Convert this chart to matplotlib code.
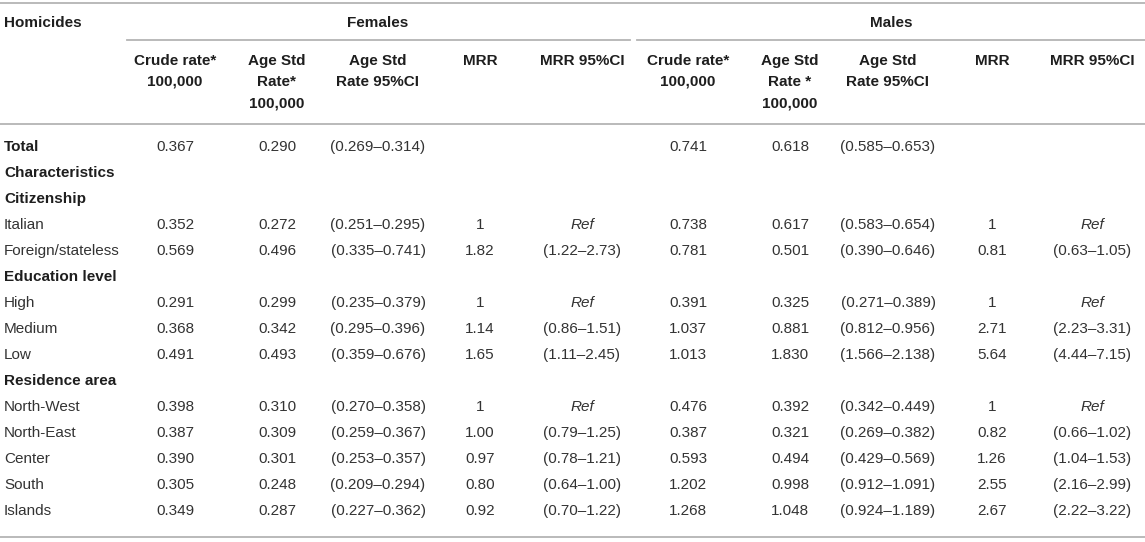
import matplotlib
matplotlib.use('Agg')
import matplotlib.pyplot as plt

plt.rcParams['font.family'] = ['Liberation Sans', 'DejaVu Sans']

# table content
row_labels = ['Total', 'Characteristics', 'Citizenship', 'Italian', 'Foreign/stateless',
              'Education level', 'High', 'Medium', 'Low', 'Residence area',
              'North-West', 'North-East', 'Center', 'South', 'Islands']
bold_rows = ['Total', 'Characteristics', 'Citizenship', 'Education level', 'Residence area']

f_headers = ['Crude rate*\n100,000', 'Age Std\nRate*\n100,000', 'Age Std\nRate 95%CI', 'MRR', 'MRR 95%CI']
m_headers = ['Crude rate*\n100,000', 'Age Std\nRate *\n100,000', 'Age Std\nRate 95%CI', 'MRR', 'MRR 95%CI']

f_crude = ['0.367', '', '', '0.352', '0.569', '', '0.291', '0.368', '0.491', '',
           '0.398', '0.387', '0.390', '0.305', '0.349']
f_age = ['0.290', '', '', '0.272', '0.496', '', '0.299', '0.342', '0.493', '',
         '0.310', '0.309', '0.301', '0.248', '0.287']
f_ci = ['(0.269–0.314)', '', '', '(0.251–0.295)', '(0.335–0.741)', '', '(0.235–0.379)',
        '(0.295–0.396)', '(0.359–0.676)', '', '(0.270–0.358)', '(0.259–0.367)',
        '(0.253–0.357)', '(0.209–0.294)', '(0.227–0.362)']
f_mrr = ['', '', '', '1', '1.82', '', '1', '1.14', '1.65', '', '1', '1.00', '0.97', '0.80', '0.92']
f_mrr_ci = ['', '', '', 'Ref', '(1.22–2.73)', '', 'Ref', '(0.86–1.51)', '(1.11–2.45)', '',
            'Ref', '(0.79–1.25)', '(0.78–1.21)', '(0.64–1.00)', '(0.70–1.22)']

m_crude = ['0.741', '', '', '0.738', '0.781', '', '0.391', '1.037', '1.013', '',
           '0.476', '0.387', '0.593', '1.202', '1.268']
m_age = ['0.618', '', '', '0.617', '0.501', '', '0.325', '0.881', '1.830', '',
         '0.392', '0.321', '0.494', '0.998', '1.048']
m_ci = ['(0.585–0.653)', '', '', '(0.583–0.654)', '(0.390–0.646)', '', '(0.271–0.389)',
        '(0.812–0.956)', '(1.566–2.138)', '', '(0.342–0.449)', '(0.269–0.382)',
        '(0.429–0.569)', '(0.912–1.091)', '(0.924–1.189)']
m_mrr = ['', '', '', '1', '0.81', '', '1', '2.71', '5.64', '', '1', '0.82', '1.26', '2.55', '2.67']
m_mrr_ci = ['', '', '', 'Ref', '(0.63–1.05)', '', 'Ref', '(2.23–3.31)', '(4.44–7.15)', '',
            'Ref', '(0.66–1.02)', '(1.04–1.53)', '(2.16–2.99)', '(2.22–3.22)']

f_cols = [f_crude, f_age, f_ci, f_mrr, f_mrr_ci]
m_cols = [m_crude, m_age, m_ci, m_mrr, m_mrr_ci]

# layout (pixel coordinates)
W, H = 1145, 542
f_x = [175, 277, 378, 480, 582]
m_x = [688, 790, 888, 992, 1092]
row_y0, row_step = 147, 26
line_col = '#b4b4b4'
txt_col = '#333333'
bold_col = '#1e1e1e'
fs = 11

fig = plt.figure(figsize=(W / 100, H / 100), dpi=100)
ax = fig.add_axes([0, 0, 1, 1])
ax.set_xlim(0, W)
ax.set_ylim(H, 0)
ax.axis('off')

# rules
ax.plot([0, W], [3, 3], color=line_col, lw=1.3)
ax.plot([127, 630], [40, 40], color=line_col, lw=1.3)
ax.plot([637, W], [40, 40], color=line_col, lw=1.3)
ax.plot([0, W], [124, 124], color=line_col, lw=1.3)
ax.plot([0, W], [537, 537], color=line_col, lw=1.3)

# top header
ax.text(4, 23, 'Homicides', ha='left', va='center', fontsize=fs, fontweight='bold', color=bold_col)
ax.text(378, 23, 'Females', ha='center', va='center', fontsize=fs, fontweight='bold', color=bold_col)
ax.text(891, 23, 'Males', ha='center', va='center', fontsize=fs, fontweight='bold', color=bold_col)

# column headers
for xs, heads in [(f_x, f_headers), (m_x, m_headers)]:
    for x, h in zip(xs, heads):
        for k, part in enumerate(h.split('\n')):
            ax.text(x, 61 + 21 * k, part, ha='center', va='center', fontsize=fs,
                    fontweight='bold', color=bold_col)

# body
for i, lab in enumerate(row_labels):
    y = row_y0 + row_step * i
    if lab in bold_rows:
        ax.text(4, y, lab, ha='left', va='center', fontsize=fs, fontweight='bold', color=bold_col)
    else:
        ax.text(4, y, lab, ha='left', va='center', fontsize=fs, color=txt_col)
    for xs, cols in [(f_x, f_cols), (m_x, m_cols)]:
        for x, col in zip(xs, cols):
            v = col[i]
            if v == '':
                continue
            style = 'italic' if v == 'Ref' else 'normal'
            ax.text(x, y, v, ha='center', va='center', fontsize=fs, style=style, color=txt_col)

fig.savefig('out.png', dpi=100)
